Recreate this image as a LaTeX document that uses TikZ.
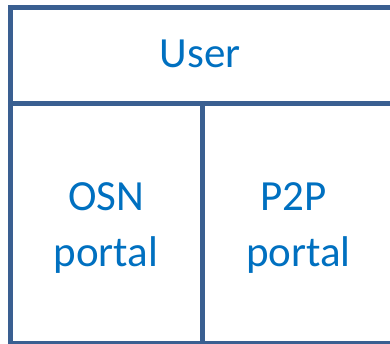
\documentclass[tikz,border=0pt]{standalone}
\usepackage{fontspec}
\setmainfont{Carlito}
\definecolor{linec}{RGB}{58,95,145}
\definecolor{textc}{RGB}{0,112,192}
\begin{document}
\begin{tikzpicture}[x=1pt,y=-1pt,
  cell/.style={draw=linec,line width=5pt,inner sep=0pt,minimum width=#1},
  lab/.style={text=textc,inner sep=0pt,anchor=base,font=\fontsize{43}{56}\selectfont}]
\useasboundingbox (0,0) rectangle (390,344);
\clip (0,0) rectangle (390,344);
\node[cell=384pt,minimum height=96pt] (user) at (202,55.7) {};
\node[cell=192pt,minimum height=239.8pt] (osn) at (106,223.6) {};
\node[cell=192pt,minimum height=239.8pt] (p2p) at (298,223.6) {};
\node[lab] (userlab) at (200,67.3) {User};
\node[lab] (osnlab) at (106,210.7) {OSN};
\node[lab] (osnlab2) at (106,266.7) {portal};
\node[lab] (p2plab) at (293.5,210.7) {P2P};
\node[lab] (p2plab2) at (298.5,266.7) {portal};
\end{tikzpicture}
\end{document}
